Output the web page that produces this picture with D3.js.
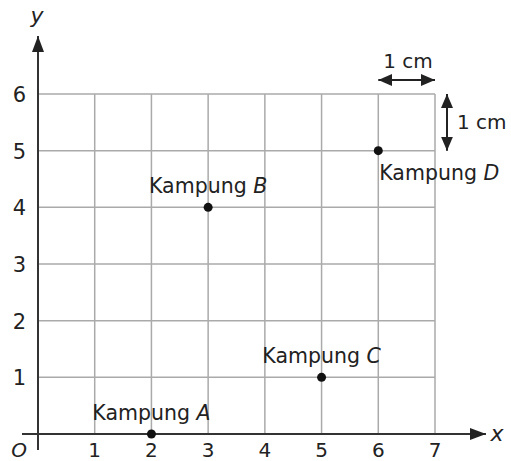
<!DOCTYPE html>
<html>
<head>
<meta charset="utf-8">
<script src="https://cdn.jsdelivr.net/npm/d3@7"></script>
<style>
  body { margin: 0; background: #fff; }
  text { font-family: "DejaVu Sans", sans-serif; fill: #222; }
</style>
</head>
<body>
<div id="chart"></div>
<script>
// villages (kampung) on the grid
var names = ["A", "B", "C", "D"];
var xs = [2, 3, 5, 6];
var ys = [0, 4, 1, 5];
// tick labels
var xTicks = [1, 2, 3, 4, 5, 6, 7];
var yTicks = [1, 2, 3, 4, 5, 6];

var W = 511, H = 461;
var svg = d3.select("#chart").append("svg")
  .attr("width", W).attr("height", H);

var x = d3.scaleLinear().domain([0, 7]).range([38, 435]);
var y = d3.scaleLinear().domain([0, 6]).range([434, 94]);

// grid
var grid = svg.append("g").attr("stroke", "#aaa").attr("stroke-width", 1.5);
grid.selectAll("line.v").data(xTicks).enter().append("line")
  .attr("x1", d => x(d)).attr("x2", d => x(d))
  .attr("y1", y(0)).attr("y2", y(6));
grid.selectAll("line.h").data(yTicks).enter().append("line")
  .attr("x1", x(0)).attr("x2", x(7))
  .attr("y1", d => y(d)).attr("y2", d => y(d));

// arrow head markers
var defs = svg.append("defs");
defs.append("marker").attr("id", "ah")
  .attr("viewBox", "0 0 14 12").attr("refX", 14).attr("refY", 6)
  .attr("markerWidth", 14).attr("markerHeight", 12)
  .attr("markerUnits", "userSpaceOnUse").attr("orient", "auto-start-reverse")
  .append("path").attr("d", "M0,0L14,6L0,12Z").attr("fill", "#222");
defs.append("marker").attr("id", "axh")
  .attr("viewBox", "0 0 16 12").attr("refX", 16).attr("refY", 6)
  .attr("markerWidth", 16).attr("markerHeight", 12)
  .attr("markerUnits", "userSpaceOnUse").attr("orient", "auto")
  .append("path").attr("d", "M0,0L16,6L0,12Z").attr("fill", "#222");

// axes
svg.append("line").attr("x1", 22).attr("x2", 486)
  .attr("y1", y(0)).attr("y2", y(0))
  .attr("stroke", "#333").attr("stroke-width", 2).attr("marker-end", "url(#axh)");
svg.append("line").attr("x1", x(0)).attr("x2", x(0))
  .attr("y1", 450).attr("y2", 36)
  .attr("stroke", "#333").attr("stroke-width", 2).attr("marker-end", "url(#axh)");

svg.append("text").attr("x", 497).attr("y", 441).attr("text-anchor", "middle")
  .style("font-size", "22px").style("font-style", "italic").text("x");
svg.append("text").attr("x", 37).attr("y", 23).attr("text-anchor", "middle")
  .style("font-size", "22px").style("font-style", "italic").text("y");
svg.append("text").attr("x", 19).attr("y", 457).attr("text-anchor", "middle")
  .style("font-size", "20px").style("font-style", "italic").text("O");

// tick labels
svg.selectAll("text.xt").data(xTicks).enter().append("text")
  .attr("x", d => x(d)).attr("y", 457).attr("text-anchor", "middle")
  .style("font-size", "20px").text(d => d);
svg.selectAll("text.yt").data(yTicks).enter().append("text")
  .attr("x", 26).attr("y", d => y(d) + 8).attr("text-anchor", "end")
  .style("font-size", "21px").text(d => d);

// points and labels
var pts = names.map((n, i) => ({ n: n, x: xs[i], y: ys[i] }));
svg.selectAll("circle.pt").data(pts).enter().append("circle")
  .attr("cx", d => x(d.x)).attr("cy", d => y(d.y)).attr("r", 4.5).attr("fill", "#111");

var lab = svg.selectAll("text.lab").data(pts).enter().append("text")
  .attr("x", d => d.n === "D" ? x(d.x) + 1 : x(d.x))
  .attr("y", d => d.n === "D" ? y(d.y) + 29 : y(d.y) - 14)
  .attr("text-anchor", d => d.n === "D" ? "start" : "middle")
  .style("font-size", "20.5px");
lab.append("tspan").text("Kampung ");
lab.append("tspan").style("font-style", "italic").text(d => d.n);

// 1 cm scale indicators
svg.append("line").attr("x1", x(6)).attr("x2", x(7)).attr("y1", 80).attr("y2", 80)
  .attr("stroke", "#222").attr("stroke-width", 2)
  .attr("marker-start", "url(#ah)").attr("marker-end", "url(#ah)");
svg.append("text").attr("x", 408).attr("y", 68).attr("text-anchor", "middle")
  .style("font-size", "20px").text("1 cm");
svg.append("line").attr("x1", 447).attr("x2", 447).attr("y1", y(6)).attr("y2", y(5))
  .attr("stroke", "#222").attr("stroke-width", 2)
  .attr("marker-start", "url(#ah)").attr("marker-end", "url(#ah)");
svg.append("text").attr("x", 457).attr("y", 129)
  .style("font-size", "20px").text("1 cm");
</script>
</body>
</html>
